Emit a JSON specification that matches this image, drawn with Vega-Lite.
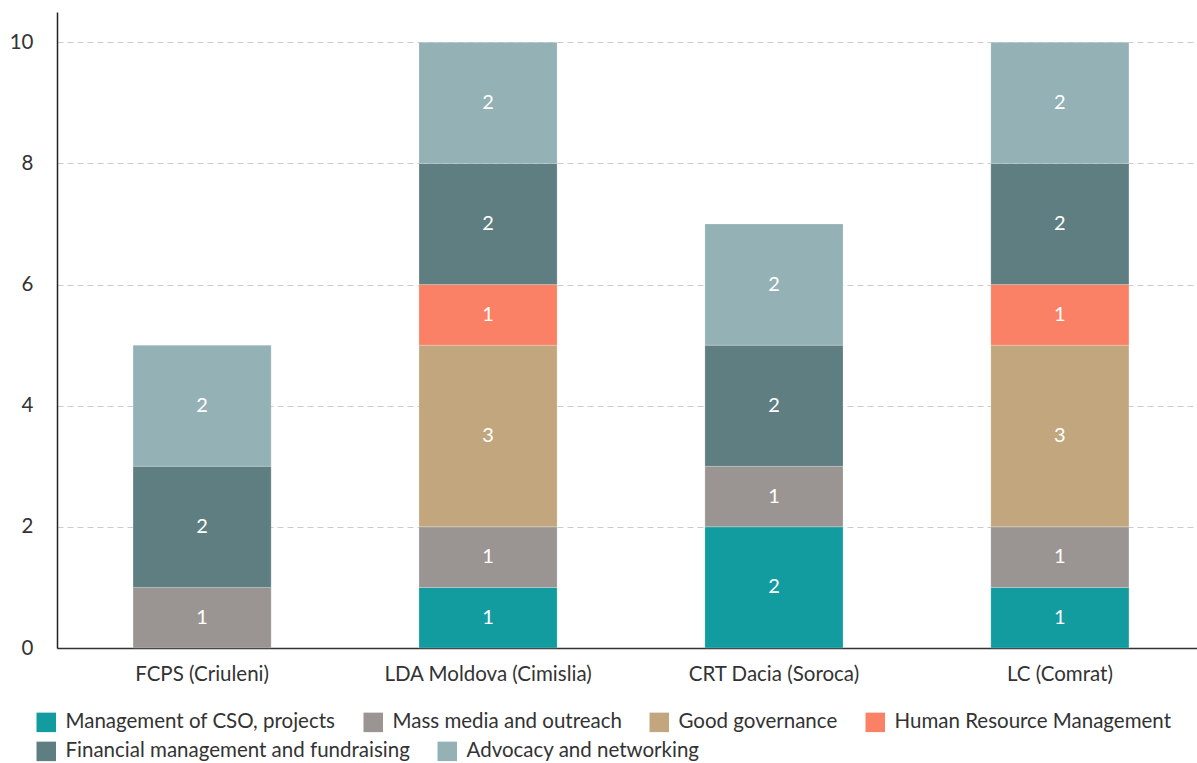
{
  "$schema": "https://vega.github.io/schema/vega-lite/v6.json",
  "width": 1148,
  "height": 636,
  "autosize": {"type": "none"},
  "padding": {"left": 57, "top": 12, "right": 0, "bottom": 115},
  "background": "white",
  "config": {
    "font": "Lato",
    "view": {"stroke": null},
    "axis": {"labelFont": "Lato", "labelColor": "#333333", "labelFontSize": 20.5, "labelLimit": 400},
    "legend": {
      "title": null, "orient": "none", "direction": "horizontal",
      "symbolType": "square", "symbolSize": 380, "symbolStrokeWidth": 0, "symbolOpacity": 1,
      "labelFontSize": 20.5, "labelFont": "Lato", "labelColor": "#333333", "labelLimit": 500,
      "labelOffset": 9, "columnPadding": 27
    }
  },
  "data": {
    "values": [
      {"org": "FCPS (Criuleni)", "area": "Mass media and outreach", "k": 2, "value": 1},
      {"org": "FCPS (Criuleni)", "area": "Financial management and fundraising", "k": 5, "value": 2},
      {"org": "FCPS (Criuleni)", "area": "Advocacy and networking", "k": 6, "value": 2},
      {"org": "LDA Moldova (Cimislia)", "area": "Management of CSO, projects", "k": 1, "value": 1},
      {"org": "LDA Moldova (Cimislia)", "area": "Mass media and outreach", "k": 2, "value": 1},
      {"org": "LDA Moldova (Cimislia)", "area": "Good governance", "k": 3, "value": 3},
      {"org": "LDA Moldova (Cimislia)", "area": "Human Resource Management", "k": 4, "value": 1},
      {"org": "LDA Moldova (Cimislia)", "area": "Financial management and fundraising", "k": 5, "value": 2},
      {"org": "LDA Moldova (Cimislia)", "area": "Advocacy and networking", "k": 6, "value": 2},
      {"org": "CRT Dacia (Soroca)", "area": "Management of CSO, projects", "k": 1, "value": 2},
      {"org": "CRT Dacia (Soroca)", "area": "Mass media and outreach", "k": 2, "value": 1},
      {"org": "CRT Dacia (Soroca)", "area": "Financial management and fundraising", "k": 5, "value": 2},
      {"org": "CRT Dacia (Soroca)", "area": "Advocacy and networking", "k": 6, "value": 2},
      {"org": "LC (Comrat)", "area": "Management of CSO, projects", "k": 1, "value": 1},
      {"org": "LC (Comrat)", "area": "Mass media and outreach", "k": 2, "value": 1},
      {"org": "LC (Comrat)", "area": "Good governance", "k": 3, "value": 3},
      {"org": "LC (Comrat)", "area": "Human Resource Management", "k": 4, "value": 1},
      {"org": "LC (Comrat)", "area": "Financial management and fundraising", "k": 5, "value": 2},
      {"org": "LC (Comrat)", "area": "Advocacy and networking", "k": 6, "value": 2}
    ]
  },
  "encoding": {
    "x": {
      "field": "org", "type": "nominal",
      "sort": ["FCPS (Criuleni)", "LDA Moldova (Cimislia)", "CRT Dacia (Soroca)", "LC (Comrat)"],
      "scale": {"paddingInner": 0.517, "paddingOuter": 0.266},
      "axis": {"title": null, "labelAngle": 0, "domainColor": "#333333", "domainWidth": 1.5, "ticks": false, "labelPadding": 16}
    },
    "y": {
      "field": "value", "type": "quantitative", "stack": "zero",
      "scale": {"domain": [0, 10.5], "nice": false},
      "axis": {"title": null, "values": [0, 2, 4, 6, 8, 10], "ticks": false, "domainColor": "#222222", "domainWidth": 1.5, "labelPadding": 24, "gridColor": "#cccccc", "gridDash": [6, 4], "gridWidth": 1.2}
    },
    "order": {"field": "k", "type": "quantitative", "sort": "ascending"}
  },
  "layer": [
    {
      "mark": {"type": "bar", "stroke": "#ffffff", "strokeWidth": 0.5, "strokeOpacity": 0.4},
      "encoding": {
        "color": {
          "field": "area", "type": "nominal",
          "scale": {
            "domain": ["Management of CSO, projects", "Mass media and outreach", "Good governance", "Human Resource Management", "Financial management and fundraising", "Advocacy and networking"],
            "range": ["#129ca0", "#9a9593", "#c2a77e", "#fa8165", "#5f7e82", "#94b2b6"]
          },
          "legend": null
        }
      }
    },
    {
      "transform": [{"filter": "datum.k <= 4"}],
      "mark": {"type": "bar", "opacity": 0},
      "encoding": {
        "color": {
          "field": "area", "type": "nominal",
          "scale": {
            "domain": ["Management of CSO, projects", "Mass media and outreach", "Good governance", "Human Resource Management"],
            "range": ["#129ca0", "#9a9593", "#c2a77e", "#fa8165"]
          },
          "legend": {"legendX": -21, "legendY": 700, "symbolOpacity": 1}
        }
      }
    },
    {
      "transform": [{"filter": "datum.k >= 5"}],
      "mark": {"type": "bar", "opacity": 0},
      "encoding": {
        "color": {
          "field": "area", "type": "nominal",
          "scale": {
            "domain": ["Financial management and fundraising", "Advocacy and networking"],
            "range": ["#5f7e82", "#94b2b6"]
          },
          "legend": {"legendX": -21, "legendY": 729, "symbolOpacity": 1}
        }
      }
    },
    {
      "mark": {"type": "text", "color": "white", "fontSize": 20, "font": "Lato"},
      "encoding": {
        "y": {"field": "value", "type": "quantitative", "stack": "zero", "bandPosition": 0.5},
        "text": {"field": "value", "type": "quantitative"}
      }
    }
  ],
  "resolve": {"scale": {"color": "independent"}, "legend": {"color": "independent"}}
}
